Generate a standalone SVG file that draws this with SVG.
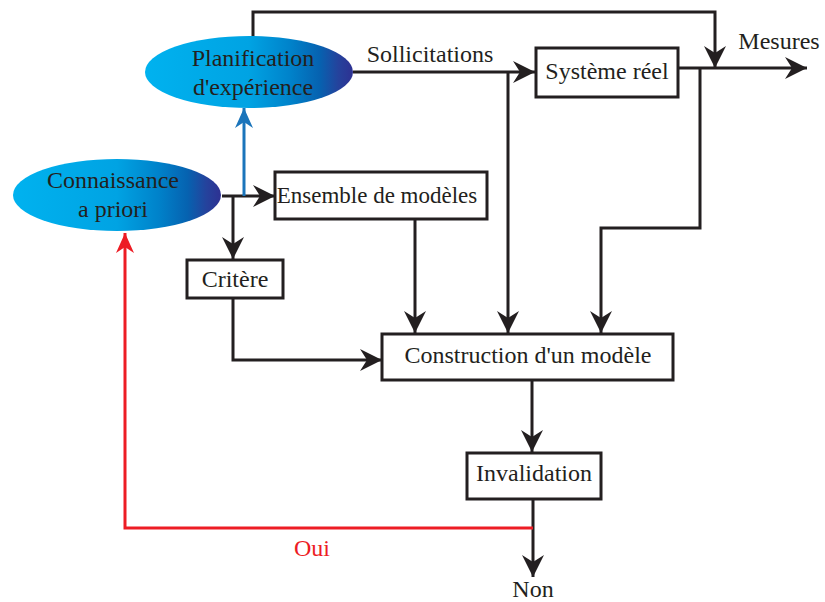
<svg xmlns="http://www.w3.org/2000/svg" width="825" height="602" viewBox="0 0 825 602">
  <style>
    .box { fill: #ffffff; stroke: #231f20; stroke-width: 3; }
    .lbl { font-family: "Liberation Serif", "Times New Roman", serif; font-size: 24px; fill: #231f20; text-anchor: middle; }
    .wire { fill: none; stroke: #231f20; stroke-width: 3; }
    .arrow { marker-end: url(#ah); }
    .blue { fill: none; stroke: #1b75bb; stroke-width: 3; marker-end: url(#ahBlue); }
    .red { fill: none; stroke: #ed1c24; stroke-width: 3; marker-end: url(#ahRed); }
  </style>
  <defs>
    <linearGradient id="ellFill" x1="0" y1="0" x2="1" y2="0">
      <stop offset="0" stop-color="#00b2ef"/>
      <stop offset="0.5" stop-color="#00a3e3"/>
      <stop offset="0.7" stop-color="#0082ca"/>
      <stop offset="0.84" stop-color="#0662b0"/>
      <stop offset="0.93" stop-color="#25429c"/>
      <stop offset="1" stop-color="#2e3192"/>
    </linearGradient>
    <marker id="ah" markerUnits="userSpaceOnUse" markerWidth="24" markerHeight="24" viewBox="-24 -12 24 24" refX="0" refY="0" orient="auto">
      <path d="M0,0 L-22,-11 L-15,0 L-22,11 Z" fill="#231f20"/>
    </marker>
    <marker id="ahBlue" markerUnits="userSpaceOnUse" markerWidth="24" markerHeight="24" viewBox="-24 -12 24 24" refX="0" refY="0" orient="auto">
      <path d="M0,0 L-20,-9 L-14,0 L-20,9 Z" fill="#1b75bb"/>
    </marker>
    <marker id="ahRed" markerUnits="userSpaceOnUse" markerWidth="24" markerHeight="24" viewBox="-24 -12 24 24" refX="0" refY="0" orient="auto">
      <path d="M0,0 L-20,-9 L-14,0 L-20,9 Z" fill="#ed1c24"/>
    </marker>
  </defs>

  <!-- connectors -->
  <g id="connectors">
    <!-- planning to measurement junction (top loop) -->
    <path class="wire arrow" d="M253,37 V12 H715 V68"/>
    <!-- Sollicitations into the real system -->
    <path class="wire arrow" d="M353,72 H535"/>
    <!-- Sollicitations branch down to model construction -->
    <path class="wire arrow" d="M508,72 V333"/>
    <!-- Mesures output -->
    <path class="wire arrow" d="M678,68 H807"/>
    <!-- Mesures branch down to model construction -->
    <path class="wire arrow" d="M700,68 V228 H601 V333"/>
    <!-- prior knowledge to model set -->
    <path class="wire arrow" d="M222,196 H275"/>
    <!-- prior knowledge to criterion -->
    <path class="wire arrow" d="M233,196 V259"/>
    <!-- prior knowledge to experiment planning -->
    <path class="blue" d="M244,196 V108"/>
    <!-- model set to construction -->
    <path class="wire arrow" d="M415,219 V333"/>
    <!-- criterion to construction -->
    <path class="wire arrow" d="M233,298 V360 H382"/>
    <!-- construction to invalidation -->
    <path class="wire arrow" d="M532,380 V452"/>
    <!-- invalidation to Non -->
    <path class="wire arrow" d="M533,499 V577"/>
    <!-- Oui feedback to prior knowledge -->
    <path class="red" d="M533,528 H125 V233"/>
    <text class="lbl" x="430" y="62">Sollicitations</text>
    <text class="lbl" x="779" y="49">Mesures</text>
    <text class="lbl" x="312" y="556" style="fill:#ed1c24">Oui</text>
    <text class="lbl" x="533" y="597">Non</text>
  </g>

  <g id="planification">
    <ellipse cx="249" cy="72" rx="104" ry="36" fill="url(#ellFill)"/>
    <text class="lbl" x="253" y="66">Planification</text>
    <text class="lbl" x="253" y="95">d'expérience</text>
  </g>

  <g id="connaissance">
    <ellipse cx="117" cy="195" rx="104" ry="36" fill="url(#ellFill)"/>
    <text class="lbl" x="113" y="188">Connaissance</text>
    <text class="lbl" x="113" y="217">a priori</text>
  </g>

  <g id="systeme">
    <rect class="box" x="536" y="48" width="142" height="49"/>
    <text class="lbl" x="607" y="79">Système réel</text>
  </g>

  <g id="ensemble">
    <rect class="box" x="275" y="172" width="212" height="47"/>
    <text class="lbl" x="377" y="203" style="font-size:23px">Ensemble de modèles</text>
  </g>

  <g id="critere">
    <rect class="box" x="187" y="260" width="96" height="38"/>
    <text class="lbl" x="235" y="287">Critère</text>
  </g>

  <g id="construction">
    <rect class="box" x="382" y="334" width="291" height="46"/>
    <text class="lbl" x="528" y="363">Construction d'un modèle</text>
  </g>

  <g id="invalidation">
    <rect class="box" x="467" y="453" width="134" height="46"/>
    <text class="lbl" x="534" y="481">Invalidation</text>
  </g>
</svg>
